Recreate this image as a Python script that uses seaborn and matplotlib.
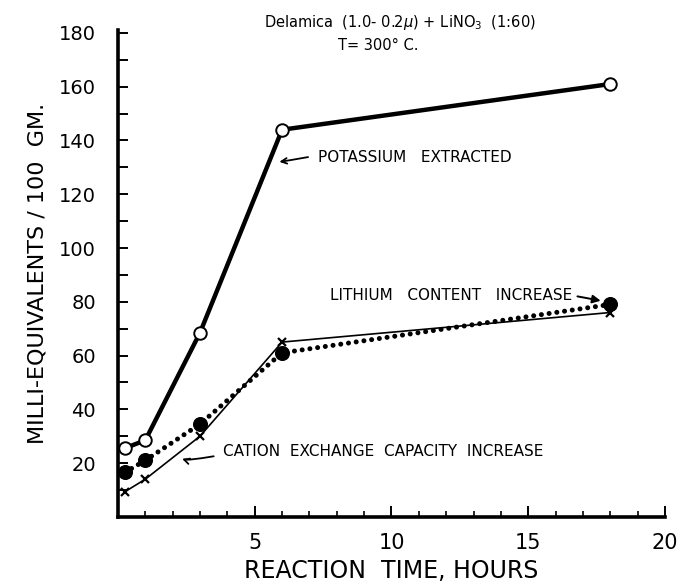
import matplotlib
matplotlib.use("Agg")
import matplotlib.pyplot as plt
from matplotlib.ticker import MultipleLocator, FuncFormatter
import seaborn as sns
import pandas as pd

# Data
hours = [0.25, 1, 3, 6, 18]
potassium = [25.5, 28.5, 68.5, 144, 161]
lithium = [16.5, 21, 34.5, 61, 79]
cec = [9.3, 14, 30, 65, 76]

df = pd.DataFrame({'hours': hours, 'potassium': potassium,
                   'lithium': lithium, 'cec': cec})

sns.set_style("ticks")
plt.rcParams['font.family'] = ['DejaVu Sans']
for k in ['text.color', 'axes.labelcolor', 'xtick.color', 'ytick.color',
          'axes.edgecolor']:
    plt.rcParams[k] = 'black'

fig = plt.figure(figsize=(6.82, 5.82), dpi=100)
ax = fig.add_axes([0.173, 0.112, 0.802, 0.836])

# cation exchange capacity: thin line with crosses
sns.lineplot(data=df, x='hours', y='cec', ax=ax, color='black', lw=1.2,
             marker='x', markersize=6, markeredgewidth=1.6,
             markeredgecolor='black', zorder=2)
# lithium: dotted with big filled dots
sns.lineplot(data=df, x='hours', y='lithium', ax=ax, color='black', lw=3.6,
             linestyle=(0, (0.01, 1.55)), dash_capstyle='round', zorder=3)
sns.scatterplot(data=df, x='hours', y='lithium', ax=ax, color='black',
                s=100, edgecolor='black', zorder=4)
# potassium: heavy line with open circles
sns.lineplot(data=df, x='hours', y='potassium', ax=ax, color='black', lw=3.2,
             marker='o', markersize=9, markerfacecolor='white',
             markeredgecolor='black', markeredgewidth=1.4, zorder=5)

ax.set_xlim(0, 20)
ax.set_ylim(0, 181)
sns.despine(ax=ax)
for s in ['left', 'bottom']:
    ax.spines[s].set_linewidth(2.6)

ax.xaxis.set_major_locator(MultipleLocator(5))
ax.xaxis.set_minor_locator(MultipleLocator(1))
ax.yaxis.set_major_locator(MultipleLocator(20))
ax.yaxis.set_minor_locator(MultipleLocator(10))
hide_zero = FuncFormatter(lambda v, p: '' if v == 0 else f'{v:g}')
ax.xaxis.set_major_formatter(hide_zero)
ax.yaxis.set_major_formatter(hide_zero)
ax.tick_params(axis='x', which='major', direction='in', length=8, width=1.4,
               pad=12, labelsize=15)
ax.tick_params(axis='x', which='minor', direction='in', length=4, width=1.2)
ax.tick_params(axis='y', which='both', direction='in', length=7, width=1.4,
               pad=16, labelsize=14)

ax.set_xlabel('REACTION  TIME, HOURS', fontsize=17, labelpad=4)
ax.set_ylabel('MILLI-EQUIVALENTS / 100  GM.', fontsize=16, labelpad=8)

fig.text(0.587, 0.961, r'Delamica  (1.0- 0.2$\mu$) + LiNO$_3$  (1:60)',
         ha='center', va='center', fontsize=10.5)
fig.text(0.555, 0.922, 'T= 300° C.', ha='center', va='center', fontsize=10.5)

lab = dict(fontsize=11, va='center', ha='left')
ax.text(7.3, 133.5, 'POTASSIUM   EXTRACTED', **lab)
ax.annotate('', xy=(5.8, 132), xytext=(7.05, 134),
            arrowprops=dict(arrowstyle='->', lw=1.3, color='black',
                            connectionstyle='angle3,angleA=10,angleB=60'))
ax.text(7.75, 82.2, 'LITHIUM   CONTENT   INCREASE', **lab)
ax.annotate('', xy=(17.75, 80.2), xytext=(16.7, 82.2),
            arrowprops=dict(arrowstyle='-|>', lw=1.4, color='black',
                            mutation_scale=12))
ax.text(3.85, 24.2, 'CATION  EXCHANGE  CAPACITY  INCREASE', **lab)
ax.annotate('', xy=(2.3, 22.5), xytext=(3.6, 22.7),
            arrowprops=dict(arrowstyle='->', lw=1.3, color='black',
                            connectionstyle='angle3,angleA=10,angleB=60'))

ax.set_facecolor('white')
fig.savefig('out.png', dpi=100, facecolor='white')
